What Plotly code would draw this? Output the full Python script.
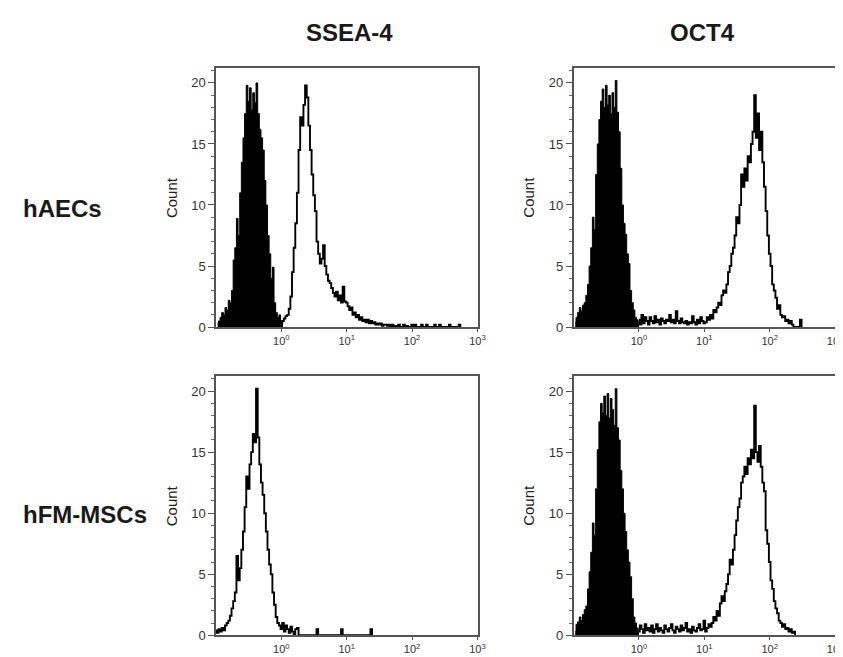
import numpy as np
import plotly.graph_objects as go

# ---------------- data ----------------
BIN_WIDTH = 0.025  # width of one channel, in decades of fluorescence

col_titles = ["SSEA-4", "OCT4"]
row_labels = ["hAECs", "hFM-MSCs"]
x_tick_vals = [1, 10, 100, 1000]
x_tick_text = ["10<sup>0</sup>", "10<sup>1</sup>", "10<sup>2</sup>", "10<sup>3</sup>"]
y_tick_vals = [0, 5, 10, 15, 20]
y_axis_label = "Count"

# SSEA-4 / hAECs
ssea4_haec_iso_start = -0.975
ssea4_haec_iso = [0.3, 0.5, 0.8, 1.2, 1.0, 1.6, 1.4, 2.2, 2.0, 3.0, 5.5, 6.5, 8.9, 7.5, 11.0,
                  13.5, 15.5, 17.5, 19.8, 18.5, 19.6, 17.8, 19.2, 18.4, 20.0, 17.5, 16.2, 15.5,
                  14.5, 12.0, 10.0, 7.5, 6.0, 4.0, 4.9, 2.0, 1.2, 0.8, 1.0, 0.5, 0.3]
ssea4_haec_pos_start = 0.0
ssea4_haec_pos = [0.3, 0.5, 0.7, 0.9, 1.0, 1.5, 2.5, 4.5, 6.5, 8.5, 11.0, 14.5, 17.2, 16.5, 18.2,
                  19.8, 18.8, 16.5, 14.5, 12.5, 10.8, 9.5, 7.0, 6.0, 5.2, 5.6, 6.7, 5.0, 4.3, 3.8,
                  3.6, 3.2, 2.8, 2.5, 2.9, 2.2, 2.6, 2.0, 3.3, 2.1, 2.0, 1.7, 1.4, 1.6, 1.0, 1.2,
                  0.8, 1.0, 0.6, 0.8, 0.5, 0.6, 0.4, 0.6, 0.3, 0.5, 0.3, 0.4, 0.2, 0.3, 0.2, 0.3,
                  0.1, 0.2, 0.2, 0.1, 0.2, 0.0, 0.2, 0.0, 0.1, 0.0, 0.2, 0.0, 0.0, 0.2, 0.0, 0.1,
                  0.0, 0.0, 0.2, 0.0, 0.2, 0.0, 0.0, 0.0, 0.2, 0.0, 0.0, 0.2, 0.0, 0.0, 0.0, 0.0,
                  0.2, 0.0, 0.0, 0.2, 0.0, 0.0, 0.0, 0.0, 0.0, 0.2, 0.0, 0.0, 0.0, 0.0, 0.0, 0.2, 0.0]

# OCT4 / hAECs
oct4_haec_iso_start = -0.975
oct4_haec_iso = [0.4, 0.8, 1.2, 1.6, 1.3, 1.8, 2.0, 2.6, 3.5, 5.0, 6.5, 9.0, 8.0, 12.5, 15.0, 17.0,
                 18.5, 19.5, 18.0, 19.8, 18.2, 19.0, 17.5, 19.2, 18.0, 20.2, 17.6, 16.0, 13.0, 10.0,
                 8.5, 7.6, 6.0, 5.2, 3.0, 2.0, 1.4, 0.8, 0.6, 0.3]
oct4_haec_pos_start = 0.0
oct4_haec_pos = [0.6, 0.2, 1.0, 0.3, 0.8, 0.5, 0.2, 0.8, 0.5, 0.3, 0.9, 0.4, 0.6, 0.2, 0.7, 0.5,
                 0.3, 0.6, 0.5, 1.0, 0.4, 0.6, 0.3, 1.3, 0.5, 0.3, 0.7, 0.4, 0.3, 0.5, 0.2, 0.4,
                 0.3, 0.9, 0.4, 0.2, 0.6, 0.3, 0.8, 0.5, 0.3, 0.4, 0.8, 0.6, 1.0, 0.7, 1.4, 1.2,
                 1.6, 2.0, 1.8, 2.6, 3.0, 2.8, 3.5, 4.5, 5.0, 6.0, 6.5, 7.5, 9.0, 8.5, 10.0, 12.5,
                 11.5, 13.0, 12.0, 14.0, 13.5, 15.0, 16.0, 19.0, 15.5, 17.5, 14.5, 16.0, 13.5, 11.5,
                 9.5, 7.5, 6.0, 5.0, 3.5, 3.0, 2.4, 1.5, 1.8, 1.0, 0.8, 0.9, 0.5, 0.6, 0.3, 0.5,
                 0.2, 0.0, 0.0, 0.0, 0.0, 0.6, 0.0]

# SSEA-4 / hFM-MSCs
ssea4_hfm_pos_start = -1.0
ssea4_hfm_pos = [0.4, 0.2, 0.5, 0.3, 0.6, 0.4, 0.8, 1.0, 1.2, 1.6, 2.2, 2.8, 3.5, 6.5, 4.5, 5.5,
                 7.0, 8.5, 10.5, 13.0, 12.0, 14.0, 15.0, 16.5, 15.8, 20.2, 16.2, 14.0, 12.5, 11.5,
                 10.0, 8.5, 7.0, 5.8, 5.0, 3.5, 2.5, 1.5, 1.0, 0.8, 0.5, 1.0, 0.3, 0.8, 0.5, 0.2,
                 0.7, 0.3, 0.0, 0.5, 0.6, 0.0, 0.0, 0.0, 0.0, 0.0, 0.0, 0.0, 0.0, 0.0, 0.0, 0.0,
                 0.5, 0.0, 0.0, 0.0, 0.0, 0.0, 0.0, 0.0, 0.0, 0.0, 0.0, 0.0, 0.0, 0.0, 0.0, 0.5,
                 0.0, 0.0, 0.0, 0.0, 0.0, 0.0, 0.0, 0.0, 0.0, 0.0, 0.0, 0.0, 0.0, 0.0, 0.0, 0.0,
                 0.0, 0.5, 0.0]

# OCT4 / hFM-MSCs
oct4_hfm_iso_start = -0.975
oct4_hfm_iso = [0.3, 0.9, 1.1, 1.5, 1.2, 1.7, 2.1, 2.4, 3.8, 5.2, 6.8, 9.2, 8.2, 12.0, 15.2, 17.5,
                19.0, 18.2, 19.6, 18.0, 19.8, 17.8, 19.4, 18.5, 17.2, 20.2, 17.0, 16.0, 13.5, 12.0,
                10.0, 8.5, 7.0, 6.0, 4.8, 3.0, 1.5, 1.0, 0.6, 0.3]
oct4_hfm_pos_start = 0.0
oct4_hfm_pos = [0.3, 0.8, 0.5, 0.2, 0.9, 0.4, 0.6, 0.3, 0.8, 0.2, 0.5, 0.9, 0.3, 0.6, 0.4, 0.2,
                0.8, 0.5, 0.3, 0.6, 0.9, 0.4, 0.2, 0.7, 0.5, 0.3, 0.8, 0.4, 0.6, 1.0, 0.3, 0.5,
                0.2, 0.7, 0.4, 0.3, 0.6, 0.9, 0.4, 0.5, 1.2, 0.3, 0.6, 0.9, 0.7, 1.0, 1.5, 1.2,
                2.0, 1.6, 2.6, 3.2, 2.8, 3.6, 4.2, 5.0, 6.2, 5.8, 7.0, 8.2, 9.4, 10.5, 11.2, 12.5,
                13.0, 13.8, 13.2, 14.5, 14.0, 15.2, 14.5, 18.8, 15.0, 14.2, 15.5, 13.8, 12.5, 11.8,
                8.6, 7.5, 6.0, 4.5, 3.8, 2.8, 2.2, 1.8, 1.2, 1.0, 0.7, 0.9, 0.5, 0.6, 0.3, 0.5,
                0.2, 0.3, 0.0]

# ---------------- figure ----------------
W, H = 843, 657
FONT = "Liberation Sans, Arial, Helvetica, sans-serif"

# panel boxes in pixels (left, right, top, bottom)
col_px = [(210, 474), (571, 835)]
row_px = [(61, 323), (373, 635)]


def xdom(c):
    return [col_px[c][0] / W, col_px[c][1] / W]


def ydom(r):
    return [1 - row_px[r][1] / H, 1 - row_px[r][0] / H]


def centers(start, vals):
    return 10 ** (start + BIN_WIDTH * np.arange(len(vals)))


fig = go.Figure()

panels = [
    # (row, col, iso_start, iso, pos_start, pos)
    (0, 0, ssea4_haec_iso_start, ssea4_haec_iso, ssea4_haec_pos_start, ssea4_haec_pos),
    (0, 1, oct4_haec_iso_start, oct4_haec_iso, oct4_haec_pos_start, oct4_haec_pos),
    (1, 0, None, None, ssea4_hfm_pos_start, ssea4_hfm_pos),
    (1, 1, oct4_hfm_iso_start, oct4_hfm_iso, oct4_hfm_pos_start, oct4_hfm_pos),
]

layout_axes = {}
for i, (r, c, iso_start, iso, pos_start, pos) in enumerate(panels):
    n = i + 1
    xa = "x" if n == 1 else f"x{n}"
    ya = "y" if n == 1 else f"y{n}"
    if iso is not None:
        fig.add_trace(go.Scatter(
            x=centers(iso_start, iso), y=iso, xaxis=xa, yaxis=ya,
            mode="lines", line=dict(color="#000000", width=1.0, shape="hvh"),
            fill="tozeroy", fillcolor="#000000", hoverinfo="skip"))
    fig.add_trace(go.Scatter(
        x=centers(pos_start, pos), y=pos, xaxis=xa, yaxis=ya,
        mode="lines", line=dict(color="#000000", width=1.9, shape="hvh"),
        hoverinfo="skip"))

    xkey = "xaxis" if n == 1 else f"xaxis{n}"
    ykey = "yaxis" if n == 1 else f"yaxis{n}"
    layout_axes[xkey] = dict(
        type="log", range=[-1, 3], domain=xdom(c), anchor=ya,
        tickmode="array", tickvals=x_tick_vals, ticktext=x_tick_text,
        ticks="outside", ticklen=3, tickwidth=1.2, tickcolor="#555555",
        showline=True, linecolor="#555555", linewidth=1.5, mirror=True,
        showgrid=False, zeroline=False,
        tickfont=dict(family=FONT, size=11, color="#333333"),
    )
    layout_axes[ykey] = dict(
        range=[0, 21.2], domain=ydom(r), anchor=xa,
        tickmode="array", tickvals=y_tick_vals,
        ticks="outside", ticklen=6, tickwidth=1.2, tickcolor="#555555",
        minor=dict(dtick=1, ticks="outside", ticklen=3, tickwidth=1, tickcolor="#666666"),
        showline=True, linecolor="#555555", linewidth=1.5, mirror=True,
        showgrid=False, zeroline=False,
        tickfont=dict(family=FONT, size=13, color="#333333"),
    )

annotations = []
for c, t in enumerate(col_titles):
    annotations.append(dict(
        text=f"<b>{t}</b>", x=(col_px[c][0] + col_px[c][1]) / 2 / W + (0.003 if c == 0 else -0.002),
        y=1 - 25 / H, xref="paper", yref="paper", xanchor="center", yanchor="middle",
        showarrow=False, font=dict(family=FONT, size=24, color="#1a1a1a")))
for r, t in enumerate(row_labels):
    annotations.append(dict(
        text=f"<b>{t}</b>", x=13 / W, y=1 - (203 if r == 0 else 513) / H,
        xref="paper", yref="paper", xanchor="left", yanchor="middle",
        showarrow=False, font=dict(family=FONT, size=24, color="#1a1a1a")))
    for c in range(2):
        annotations.append(dict(
            text=y_axis_label, textangle=-90,
            x=(165 if c == 0 else 526) / W, y=1 - ((row_px[r][0] + row_px[r][1]) / 2) / H,
            xref="paper", yref="paper", xanchor="center", yanchor="middle",
            showarrow=False, font=dict(family=FONT, size=15, color="#222222")))

fig.update_layout(
    width=W, height=H,
    margin=dict(l=0, r=0, t=0, b=0),
    paper_bgcolor="white", plot_bgcolor="white",
    showlegend=False,
    annotations=annotations,
    **layout_axes,
)

fig.write_html("out.html")
